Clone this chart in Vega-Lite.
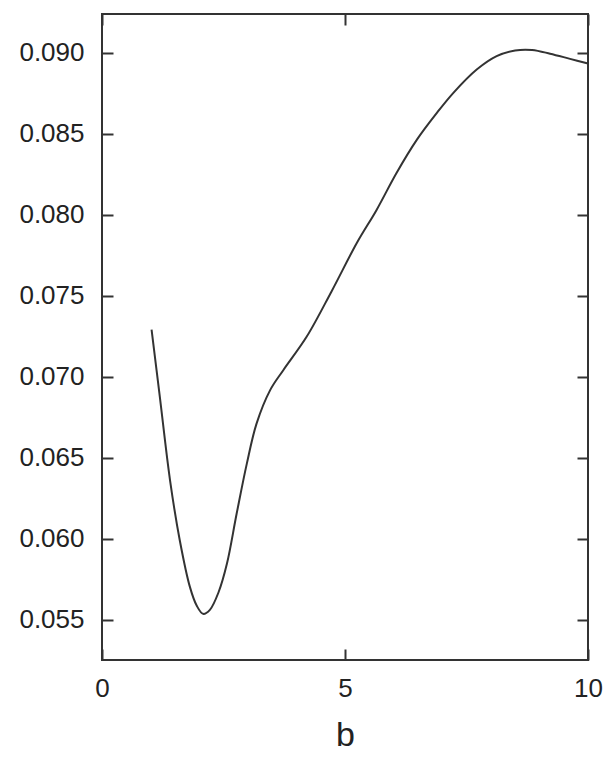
{
  "$schema": "https://vega.github.io/schema/vega-lite/v6.json",
  "autosize": "none",
  "width": 486,
  "height": 646,
  "padding": {"left": 102, "top": 14, "right": 24, "bottom": 100},
  "data": {
    "values": [
      {"b": 1.02, "v": 0.0729},
      {"b": 1.19, "v": 0.06875},
      {"b": 1.40, "v": 0.0636},
      {"b": 1.60, "v": 0.0599},
      {"b": 1.81, "v": 0.0570},
      {"b": 1.95, "v": 0.05585},
      {"b": 2.08, "v": 0.05535},
      {"b": 2.22, "v": 0.0556},
      {"b": 2.40, "v": 0.0567},
      {"b": 2.57, "v": 0.05844},
      {"b": 2.77, "v": 0.06153},
      {"b": 2.98, "v": 0.06463},
      {"b": 3.18, "v": 0.0671},
      {"b": 3.46, "v": 0.06917},
      {"b": 3.73, "v": 0.0704},
      {"b": 4.21, "v": 0.07246},
      {"b": 4.72, "v": 0.07525},
      {"b": 5.24, "v": 0.07824},
      {"b": 5.65, "v": 0.0803},
      {"b": 6.06, "v": 0.08258},
      {"b": 6.48, "v": 0.08464},
      {"b": 6.89, "v": 0.08629},
      {"b": 7.23, "v": 0.08753},
      {"b": 7.71, "v": 0.08897},
      {"b": 8.12, "v": 0.0898},
      {"b": 8.50, "v": 0.09015},
      {"b": 8.85, "v": 0.09018},
      {"b": 9.22, "v": 0.08995},
      {"b": 9.63, "v": 0.08963},
      {"b": 10.0, "v": 0.08934}
    ]
  },
  "layer": [
    {
      "mark": {"type": "line", "interpolate": "catmull-rom", "color": "#333333", "strokeWidth": 2},
      "encoding": {
        "x": {
          "field": "b",
          "type": "quantitative",
          "title": "b",
          "scale": {"domain": [0, 10], "nice": false, "zero": false},
          "axis": {"orient": "bottom", "values": [0, 5, 10], "labelFlush": false, "labelPadding": 26, "titlePadding": 17}
        },
        "y": {
          "field": "v",
          "type": "quantitative",
          "title": null,
          "scale": {"domain": [0.0525, 0.0924], "nice": false, "zero": false},
          "axis": {"orient": "left", "values": [0.055, 0.06, 0.065, 0.07, 0.075, 0.08, 0.085, 0.09], "format": ".3f", "labelPadding": 29}
        }
      }
    },
    {
      "mark": {"type": "line", "interpolate": "catmull-rom", "strokeOpacity": 0},
      "encoding": {
        "x": {
          "field": "b",
          "type": "quantitative",
          "axis": {"orient": "top", "values": [0, 5, 10], "labels": false, "title": null}
        },
        "y": {
          "field": "v",
          "type": "quantitative",
          "axis": {"orient": "right", "values": [0.055, 0.06, 0.065, 0.07, 0.075, 0.08, 0.085, 0.09], "labels": false, "title": null}
        }
      }
    }
  ],
  "resolve": {"axis": {"x": "independent", "y": "independent"}},
  "config": {
    "view": {"stroke": "#333333", "strokeWidth": 2},
    "axis": {
      "domain": false,
      "grid": false,
      "tickSize": -11,
      "tickWidth": 2,
      "tickColor": "#333333",
      "labelFont": "Liberation Sans",
      "labelFontSize": 26,
      "labelColor": "#222222",
      "titleFont": "Liberation Sans",
      "titleFontSize": 34,
      "titleFontWeight": "normal",
      "titleColor": "#222222"
    }
  }
}
